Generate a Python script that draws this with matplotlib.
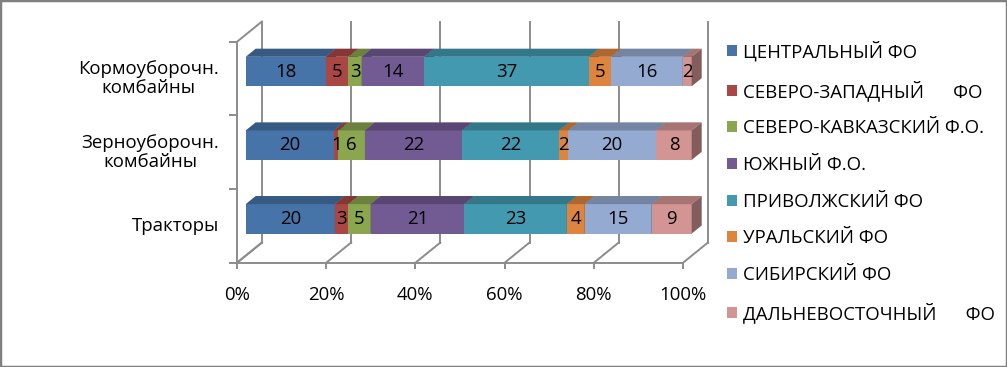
import matplotlib
matplotlib.use("Agg")
import matplotlib.pyplot as plt
import numpy as np
from matplotlib.transforms import offset_copy
from matplotlib.patches import Polygon, Rectangle
import matplotlib.colors as mcolors

plt.rcParams['font.family'] = ['Open Sans', 'DejaVu Sans']

# ---------------- data ----------------
categories = ['Тракторы', 'Зерноуборочн.\nкомбайны', 'Кормоуборочн.\nкомбайны']
series_names = ['ЦЕНТРАЛЬНЫЙ ФО', 'СЕВЕРО-ЗАПАДНЫЙ      ФО', 'СЕВЕРО-КАВКАЗСКИЙ Ф.О.',
                'ЮЖНЫЙ Ф.О.', 'ПРИВОЛЖСКИЙ ФО', 'УРАЛЬСКИЙ ФО', 'СИБИРСКИЙ ФО',
                'ДАЛЬНЕВОСТОЧНЫЙ      ФО']
central = [20, 20, 18]
northwest = [3, 1, 5]
ncaucasus = [5, 6, 3]
south = [21, 22, 14]
volga = [23, 22, 37]
ural = [4, 2, 5]
siberia = [15, 20, 16]
fareast = [9, 8, 2]
series_values = [central, northwest, ncaucasus, south, volga, ural, siberia, fareast]
tick_labels = ['0%', '20%', '40%', '60%', '80%', '100%']

colors = ['#4673A8', '#AA4744', '#8AA64F', '#725A92', '#4299B0', '#DD853E', '#94AAD1', '#D39594']

# ---------------- figure ----------------
W, H = 1007, 367
fig = plt.figure(figsize=(W / 100, H / 100), dpi=100)
ax_l, ax_r, ax_t, ax_b = 245.7, 691.7, 34.7, 255.7
ax = fig.add_axes([ax_l / W, (H - ax_b) / H, (ax_r - ax_l) / W, (ax_b - ax_t) / H])
ax.set_xlim(0, 100)
ax.set_ylim(-0.5, 2.5)
ax.axis('off')

FS = 13.4
DEPTH_DX, DEPTH_DY = 25.0, 20.3   # full depth offset (pixels)
BAR_DEP0, BAR_DEP1 = 0.35, 0.75

def dep_tr(dep, extra_x=0.0, extra_y=0.0):
    return offset_copy(ax.transData, fig=fig,
                       x=(dep - BAR_DEP0) * DEPTH_DX + extra_x,
                       y=(dep - BAR_DEP0) * DEPTH_DY + extra_y, units='dots')

grid_c = '#8C8C8C'
glw = 1.4
ticks = np.linspace(0, 100, 6)
# back wall gridlines
for t in ticks:
    ax.plot([t, t], [-0.5, 2.5], color=grid_c, lw=glw, transform=dep_tr(1.0), clip_on=False, zorder=1)
# floor diagonals and ticks
for t in ticks:
    x0, y0 = dep_tr(0.0).transform((t, -0.5))
    x1, y1 = dep_tr(1.0).transform((t, -0.5))
    fig.add_artist(plt.Line2D([x0 / W, x1 / W], [y0 / H, y1 / H], color=grid_c, lw=glw, zorder=1))
    fig.add_artist(plt.Line2D([x0 / W, x0 / W], [y0 / H, (y0 - 5) / H], color=grid_c, lw=glw, zorder=1))
# left wall diagonals
for yy in (-0.5, 2.5):
    x0, y0 = dep_tr(0.0).transform((0, yy))
    x1, y1 = dep_tr(1.0).transform((0, yy))
    fig.add_artist(plt.Line2D([x0 / W, x1 / W], [y0 / H, y1 / H], color=grid_c, lw=glw, zorder=1))
# left axis line and floor front line
ax.plot([0, 0], [-0.5, 2.5], color=grid_c, lw=glw, transform=dep_tr(0.0), clip_on=False, zorder=1)
ax.plot([0, 100], [-0.5, -0.5], color=grid_c, lw=glw, transform=dep_tr(0.0), clip_on=False, zorder=1)
# left axis ticks
for yy in (-0.5, 0.5, 1.5, 2.5):
    x0, y0 = dep_tr(0.0).transform((0, yy))
    fig.add_artist(plt.Line2D([x0 / W, (x0 - 7) / W], [y0 / H, y0 / H], color=grid_c, lw=glw))

# ---------------- bars ----------------
vals = np.array(series_values, dtype=float)
totals = vals.sum(axis=0)
pct = vals / totals * 100
ypos = np.arange(len(categories))
bh = 0.4
px_x = 100 / (ax_r - ax_l)
px_y = 3 / (ax_b - ax_t)
bdx = (BAR_DEP1 - BAR_DEP0) * DEPTH_DX * px_x
bdy = (BAR_DEP1 - BAR_DEP0) * DEPTH_DY * px_y

def shade(c, f):
    r, g, b = mcolors.to_rgb(c)
    return (r * f, g * f, b * f)

left = np.zeros(len(categories))
handles = []
for i, (name, p, raw) in enumerate(zip(series_names, pct, vals)):
    z = 3 + i
    bars = ax.barh(ypos, p, left=left, height=bh, color=colors[i], label=name,
                   edgecolor='none', zorder=z)
    handles.append(bars)
    for j in range(len(categories)):
        l, r = left[j], left[j] + p[j]
        top = ypos[j] + bh / 2
        bot = ypos[j] - bh / 2
        ax.add_patch(Polygon([(l, top), (r, top), (r + bdx, top + bdy), (l + bdx, top + bdy)],
                             closed=True, facecolor=shade(colors[i], 0.78), edgecolor='none',
                             zorder=z, clip_on=False))
        ax.add_patch(Polygon([(r, bot), (r, top), (r + bdx, top + bdy), (r + bdx, bot + bdy)],
                             closed=True, facecolor=shade(colors[i], 0.62), edgecolor='none',
                             zorder=z, clip_on=False))
    for j in range(len(categories)):
        ax.text(left[j] + p[j] / 2, ypos[j], f'{int(raw[j])}', ha='center', va='center',
                fontsize=FS, color='black', zorder=20)
    left = left + p

# ---------------- tick labels ----------------
for t, lab in zip(ticks, tick_labels):
    ax.text(t, -0.5, lab, ha='center', va='top', fontsize=FS, transform=dep_tr(0.0, 0, -23),
            clip_on=False)
for y, lab in zip(ypos, categories):
    ax.text(0, y, lab, ha='right', va='center', multialignment='center', fontsize=FS,
            transform=dep_tr(0.0, -18, 0), clip_on=False, linespacing=1.1)

# ---------------- legend ----------------
leg = fig.legend(handles=handles, labels=series_names, loc='upper left',
                 bbox_to_anchor=(726.5 / W, 1 - 41 / H), frameon=False, fontsize=FS,
                 handlelength=0.54, handleheight=0.54, handletextpad=0.32,
                 labelspacing=1.0, borderpad=0, borderaxespad=0)

# outer frame
fig.add_artist(Rectangle((0, 0), 1, 1, transform=fig.transFigure, fill=False,
                         edgecolor='#808080', lw=2.5))

fig.savefig('out.png', dpi=100)
